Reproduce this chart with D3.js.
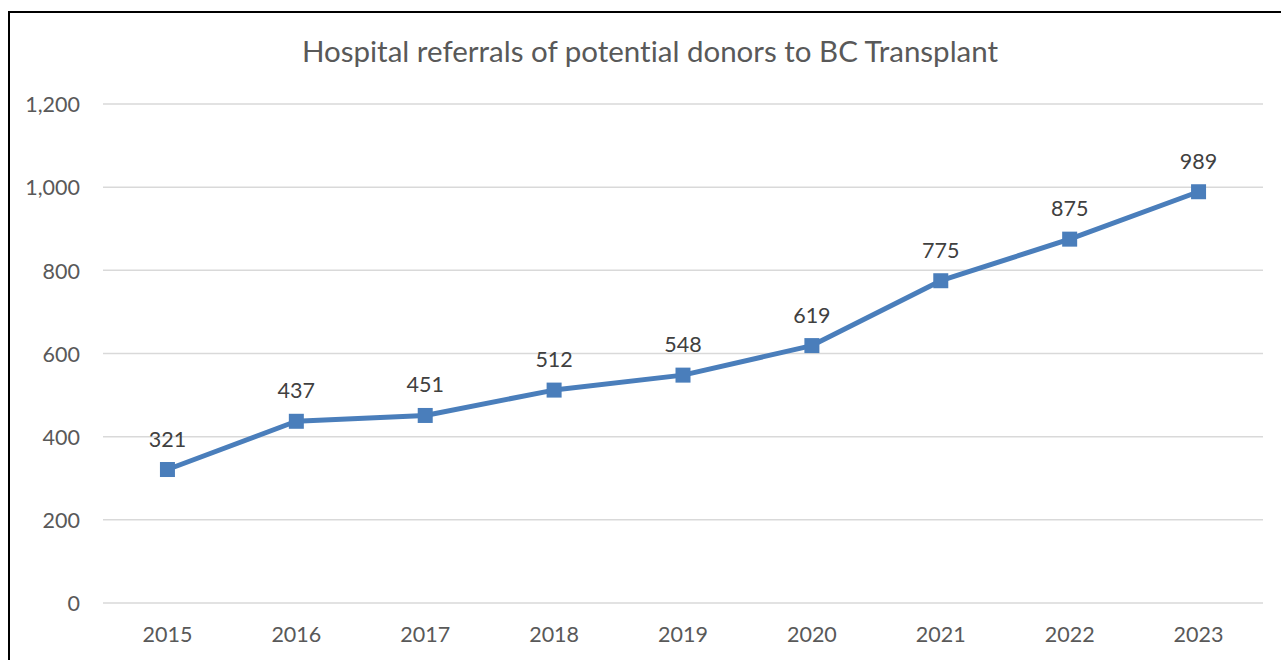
<!DOCTYPE html>
<html><head><meta charset="utf-8">
<script src="https://cdn.jsdelivr.net/npm/d3@7"></script>
<style>body{margin:0;background:#fff}svg{display:block}text{font-variant-ligatures:none;font-feature-settings:"liga" 0}</style>
</head><body><svg id="c" width="1281" height="660"></svg>
<script>
const years = ["2015","2016","2017","2018","2019","2020","2021","2022","2023"];
const referrals = [321,437,451,512,548,619,775,875,989];
const yTicks = [0,200,400,600,800,1000,1200];
const title = "Hospital referrals of potential donors to BC Transplant";

const svg = d3.select("#c");
const font = "Lato, 'Open Sans', sans-serif";
const textColor = "#595959";
const lineColor = "#4A7EBB";
const fs = 21.5;

// chart border
svg.append("rect").attr("x",9).attr("y",12).attr("width",1300).attr("height",700)
  .attr("fill","none").attr("stroke","#000").attr("stroke-width",2);

const x = d3.scaleBand().domain(years).range([103,1263]);
const y = d3.scaleLinear().domain([0,1200]).range([603,104]);

// grid
svg.append("g").selectAll("line").data(yTicks).join("line")
  .attr("x1",103).attr("x2",1263).attr("y1",d=>y(d)).attr("y2",d=>y(d))
  .attr("stroke","#d9d9d9").attr("stroke-width",1.5);

// y axis
const yAxis = svg.append("g").attr("transform","translate(103,0)")
  .call(d3.axisLeft(y).tickValues(yTicks).tickFormat(d3.format(",")).tickSize(0).tickPadding(23));
yAxis.select(".domain").remove();
yAxis.selectAll("text").attr("font-family",font).attr("font-size",fs).attr("fill",textColor).attr("dy","0.36em");

// x axis
const xAxis = svg.append("g").attr("transform","translate(0,603)")
  .call(d3.axisBottom(x).tickSize(0));
xAxis.select(".domain").remove();
xAxis.selectAll("text").attr("font-family",font).attr("font-size",fs).attr("fill",textColor)
  .attr("y",39).attr("dy",0);

const cx = d => x(d) + x.bandwidth()/2;

// line
svg.append("path").datum(referrals.map((v,i)=>[years[i],v]))
  .attr("fill","none").attr("stroke",lineColor).attr("stroke-width",5).attr("stroke-linejoin","round")
  .attr("d", d3.line().x(d=>cx(d[0])).y(d=>y(d[1])));

// markers
svg.append("g").selectAll("rect").data(referrals).join("rect")
  .attr("x",(d,i)=>cx(years[i])-7.5).attr("y",d=>y(d)-7.5)
  .attr("width",15).attr("height",15).attr("fill",lineColor);

// labels
svg.append("g").selectAll("text").data(referrals).join("text")
  .attr("x",(d,i)=>cx(years[i])).attr("y",d=>y(d)-23)
  .attr("text-anchor","middle").attr("font-family",font).attr("font-size",fs).attr("fill","#404040")
  .text(d=>d);

// title
svg.append("text").attr("x",650).attr("y",62).attr("text-anchor","middle")
  .attr("font-family",font).attr("font-size",29.5).attr("fill",textColor).text(title);
</script></body></html>
